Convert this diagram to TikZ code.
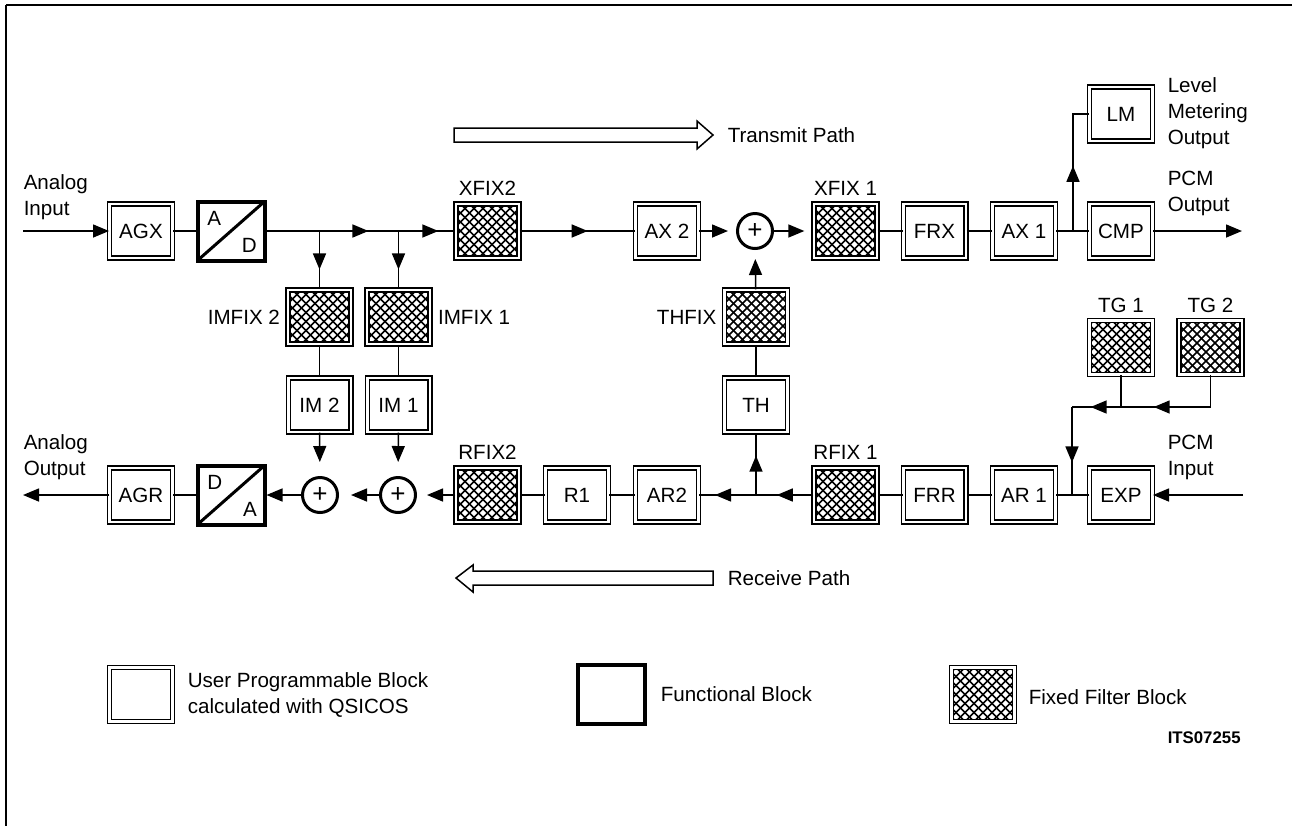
\documentclass[tikz,border=0pt]{standalone}
\usepackage{fontspec}
\setmainfont{Liberation Sans}
\usetikzlibrary{arrows.meta,decorations.markings,calc}

\begin{document}
\begin{tikzpicture}[x=0.5pt,y=-0.5pt,line width=0.75pt,>={Triangle[length=8pt,width=6.5pt]},
  every node/.style={font=\fontsize{10.3}{13}\selectfont},
  txt/.style={align=left,anchor=west,inner sep=0pt},
  upb/.style={draw,line width=0.6pt,double,double distance=1.4pt,minimum width=31.4pt,minimum height=27pt,inner sep=0pt},
  ffb/.style={upb,line width=0.75pt,double distance=1.2pt,
    path picture={\foreach \k in {-8,...,8}{
      \draw[line width=0.85pt] ([xshift=\k*4.5pt]path picture bounding box.center) ++(-20pt,-20pt) -- ++(40pt,40pt)
        ([xshift=\k*4.5pt]path picture bounding box.center) ++(-20pt,20pt) -- ++(40pt,-40pt);}}},
  fb/.style={draw,line width=2pt,minimum width=33.5pt,minimum height=29.5pt,inner sep=0pt},
  conv/.style={fb,path picture={\draw[line width=1.5pt] (path picture bounding box.south west) -- (path picture bounding box.north east);}},
  sum/.style={circle,draw,line width=1.5pt,minimum size=17.5pt,inner sep=0pt,font=\fontsize{13}{13}\selectfont},
  arrowat/.style={postaction={decorate,decoration={markings,mark=at position #1 with {\arrow{>}}}}}]

\useasboundingbox (0,0) rectangle (1292,826);
\draw[line width=0.6pt] (6,5) -- (1292,5);
\draw[line width=1pt] (6,5) -- (6,826);

% transmit path
\node[upb] (AGX) at (141,231) {AGX};
\node[conv] (AD) at (231,231) {};
\node[inner sep=5.5pt,anchor=north west] (ADa) at (AD.north west) {A};
\node[inner sep=4.5pt,anchor=south east] (ADd) at (AD.south east) {D};
\node[ffb,label={above:XFIX2}] (XFIX2) at (487.5,231) {};
\node[upb] (AX2) at (667,231) {AX 2};
\node[sum] (sT) at (755,231) {+};
\node[ffb,label={above:XFIX 1}] (XFIX1) at (845.5,231) {};
\node[upb] (FRX) at (934.5,231) {FRX};
\node[upb] (AX1) at (1024,231) {AX 1};
\node[upb] (CMP) at (1121,231) {CMP};
\node[upb] (LM) at (1121,114) {LM};

% cross paths
\node[ffb,label={left:IMFIX 2}] (IMFIX2) at (319.5,317) {};
\node[ffb,label={right:IMFIX 1}] (IMFIX1) at (398.5,317) {};
\node[upb] (IM2) at (319.5,405) {IM 2};
\node[upb] (IM1) at (398.5,405) {IM 1};
\node[ffb,label={left:THFIX}] (THFIX) at (756,317) {};
\node[upb] (TH) at (756,405) {TH};
\node[ffb,label={above:TG 1}] (TG1) at (1121,347.5) {};
\node[ffb,label={above:TG 2}] (TG2) at (1210.5,347.5) {};

% receive path
\node[upb] (AGR) at (141,495) {AGR};
\node[conv] (DA) at (231,495) {};
\node[inner sep=5.5pt,anchor=north west] (DAd) at (DA.north west) {D};
\node[inner sep=4.5pt,anchor=south east] (DAa) at (DA.south east) {A};
\node[sum] (sIM2) at (320,495) {+};
\node[sum] (sIM1) at (398,495) {+};
\node[ffb,label={above:RFIX2}] (RFIX2) at (487.5,495) {};
\node[upb] (R1) at (577,495) {R1};
\node[upb] (AR2) at (667,495) {AR2};
\node[ffb,label={above:RFIX 1}] (RFIX1) at (845.5,495) {};
\node[upb] (FRR) at (934.5,495) {FRR};
\node[upb] (AR1) at (1024,495) {AR 1};
\node[upb] (EXP) at (1121,495) {EXP};

% texts
\node[txt] (ainT) at (23,197.5) {Analog\\Input};
\node[txt] (aoutT) at (23,457) {Analog\\Output};
\node[txt] (lmT) at (1167,113) {Level\\Metering\\Output};
\node[txt] (poutT) at (1167,193.5) {PCM\\Output};
\node[txt] (pinT) at (1167,457.5) {PCM\\Input};
\node[txt] (txT) at (727,135) {Transmit Path};
\node[txt] (rxT) at (727,578) {Receive Path};

\draw (454,128) -- (697,128) -- (697,121) -- (713,135) -- (697,149) -- (697,142) -- (454,142) -- cycle;
\draw (713,571) -- (473,571) -- (473,565) -- (456,578) -- (473,592) -- (473,585) -- (713,585) -- cycle;

% legend
\node[upb] (keyUPB) at (141,694.5) {};
\node[txt] (keyUPBT) at (187,695) {User Programmable Block\\calculated with QSICOS};
\node[fb] (keyFB) at (611,694) {};
\node[txt] (keyFBT) at (660,694) {Functional Block};
\node[ffb] (keyFFB) at (983,694.5) {};
\node[txt] (keyFFBT) at (1028,697) {Fixed Filter Block};
\node[txt,font=\bfseries\fontsize{8.4}{10}\selectfont] (its) at (1167,738) {ITS07255};

% connectors, transmit
\coordinate (inA) at (23,231);
\coordinate (outP) at (1242,231);
\coordinate (jIM2) at (IMFIX2 |- AD);
\coordinate (jIM1) at (IMFIX1 |- AD);
\coordinate (jLM) at (1073,231);
\draw[->] (inA) -- (AGX);
\draw (AGX) -- (AD);
\draw[arrowat=0.54,arrowat=0.91] (AD) -- (XFIX2);
\draw[arrowat=0.66] (jIM2) -- (IMFIX2);
\draw[arrowat=0.66] (jIM1) -- (IMFIX1);
\draw[arrowat=0.59] (XFIX2) -- (AX2);
\draw[->,shorten >=4pt] (AX2) -- (sT);
\draw[->,shorten >=4.5pt] (sT) -- (XFIX1);
\draw (XFIX1) -- (FRX);
\draw (FRX) -- (AX1);
\draw (AX1) -- (CMP);
\draw[arrowat=0.49] (jLM) |- (LM);
\draw[->] (CMP) -- (outP);

% connectors, cross paths
\draw (IMFIX2) -- (IM2);
\draw (IMFIX1) -- (IM1);
\draw[->,shorten >=7pt] (IM2) -- (sIM2);
\draw[->,shorten >=7pt] (IM1) -- (sIM1);
\draw (TH) -- (THFIX);
\draw[->,shorten >=4.5pt] (THFIX) -- (sT);

% connectors, receive
\coordinate (inP) at (1243,495);
\coordinate (outA) at (23,495);
\coordinate (jTH) at (TH |- AR2);
\coordinate (tgA) at (TG1 |- 0,407);
\coordinate (tgB) at (1072,407);
\coordinate (jTG) at (tgB |- EXP);
\draw[->] (inP) -- (EXP);
\draw (EXP) -- (AR1);
\draw (AR1) -- (FRR);
\draw (FRR) -- (RFIX1);
\draw[arrowat=0.32,arrowat=0.86] (RFIX1) -- (AR2);
\draw[arrowat=0.63] (jTH) -- (TH);
\draw (AR2) -- (R1);
\draw (R1) -- (RFIX2);
\draw[->,shorten >=5pt] (RFIX2) -- (sIM1);
\draw[->,shorten >=6pt] (sIM1) -- (sIM2);
\draw[->] (sIM2) -- (DA);
\draw (DA) -- (AGR);
\draw[->] (AGR) -- (outA);
\draw[arrowat=0.73] (TG2) |- (tgA);
\draw (TG1) -- (tgA);
\draw[arrowat=0.62] (tgA) -- (tgB);
\draw[arrowat=0.63] (tgB) -- (jTG);
\end{tikzpicture}
\end{document}
